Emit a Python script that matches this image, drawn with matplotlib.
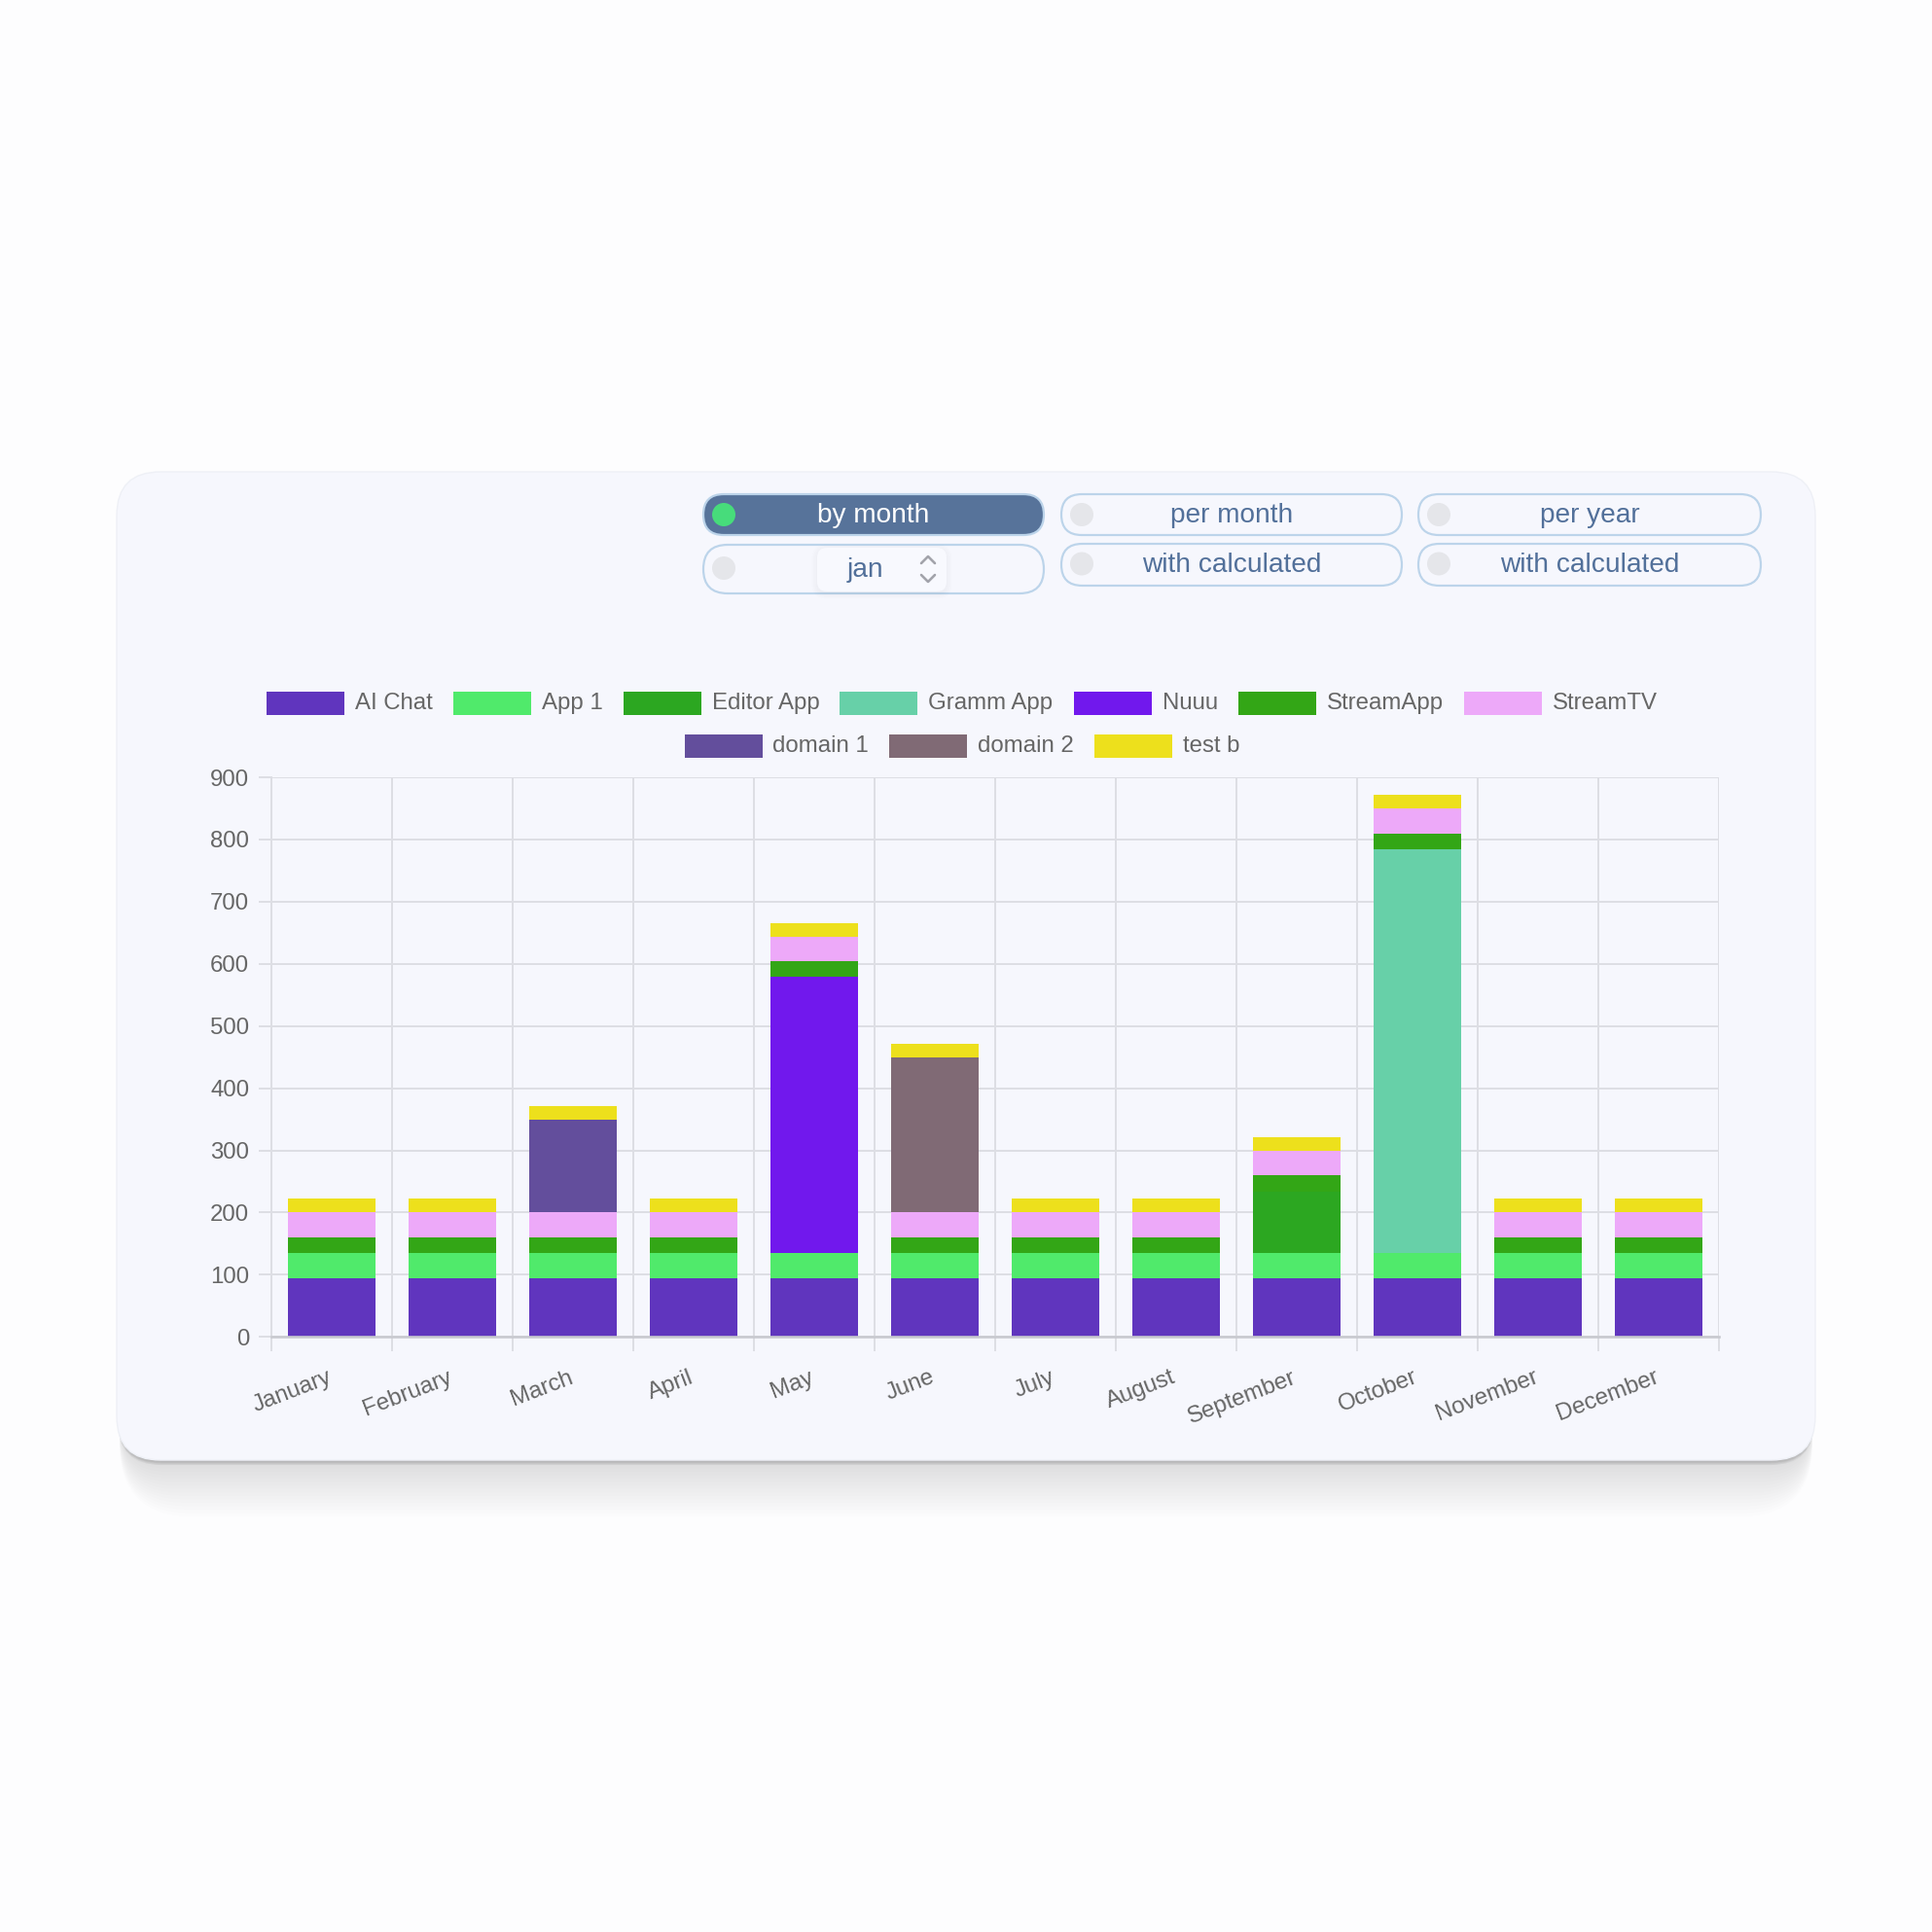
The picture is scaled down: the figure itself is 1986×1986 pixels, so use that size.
import matplotlib
matplotlib.use('Agg')
import matplotlib.pyplot as plt
import matplotlib.transforms as mtransforms
from matplotlib.patches import FancyBboxPatch, Rectangle, Circle
import numpy as np

plt.rcParams['font.family'] = ['Liberation Sans', 'DejaVu Sans']

# ---------------- data ----------------
months = ['January', 'February', 'March', 'April', 'May', 'June', 'July',
          'August', 'September', 'October', 'November', 'December']
series_names = ['AI Chat', 'App 1', 'Editor App', 'Gramm App', 'Nuuu',
                'StreamApp', 'StreamTV', 'domain 1', 'domain 2', 'test b']
ai_chat   = [94, 94, 94, 94, 94, 94, 94, 94, 94, 94, 94, 94]
app_1     = [41, 41, 41, 41, 41, 41, 41, 41, 41, 41, 41, 41]
editor    = [0, 0, 0, 0, 0, 0, 0, 0, 98, 0, 0, 0]
gramm     = [0, 0, 0, 0, 0, 0, 0, 0, 0, 650, 0, 0]
nuuu      = [0, 0, 0, 0, 444, 0, 0, 0, 0, 0, 0, 0]
streamapp = [25, 25, 25, 25, 25, 25, 25, 25, 27, 25, 25, 25]
streamtv  = [40, 40, 40, 40, 40, 40, 40, 40, 39, 40, 40, 40]
domain_1  = [0, 0, 150, 0, 0, 0, 0, 0, 0, 0, 0, 0]
domain_2  = [0, 0, 0, 0, 0, 250, 0, 0, 0, 0, 0, 0]
test_b    = [22, 22, 22, 22, 22, 22, 22, 22, 22, 22, 22, 22]
series_values = [ai_chat, app_1, editor, gramm, nuuu, streamapp, streamtv,
                 domain_1, domain_2, test_b]
series_colors = ['#6035be', '#50ea6b', '#2ca721', '#67d0a8', '#7118ed',
                 '#33a616', '#eda9f9', '#634e9c', '#806a75', '#ede01c']
y_ticks = [0, 100, 200, 300, 400, 500, 600, 700, 800, 900]
buttons_row1 = ['by month', 'per month', 'per year']
buttons_row2 = ['jan', 'with calculated', 'with calculated']

# ---------------- figure ----------------
W = 1986
fig = plt.figure(figsize=(19.86, 19.86), dpi=100)
fig.patch.set_facecolor('#fdfdfe')

bg = fig.add_axes([0, 0, 1, 1], zorder=0)
bg.set_xlim(0, W)
bg.set_ylim(W, 0)
bg.axis('off')

PT = 0.72  # px -> pt at dpi 100

# card shadow (soft, below the card)
cx, cy, cw, ch, cr = 120, 485, 1746, 1016, 45
for i in range(16):
    s = 1 + i * 3.2
    top = cy + 60
    bg.add_patch(FancyBboxPatch((cx + 3, top), cw - 6, (cy + ch + 4 + s * 1.1) - top,
                                boxstyle=f"round,pad=0,rounding_size={cr + s * 0.6}",
                                fc='black', ec='none', alpha=0.009, zorder=1))
for i in range(4):
    s = 0.5 + i * 1.2
    top = cy + 60
    bg.add_patch(FancyBboxPatch((cx + 1, top), cw - 2, (cy + ch + 1 + s) - top,
                                boxstyle=f"round,pad=0,rounding_size={cr}",
                                fc='black', ec='none', alpha=0.05, zorder=1))
bg.add_patch(FancyBboxPatch((cx, cy), cw, ch, boxstyle=f"round,pad=0,rounding_size={cr}",
                            fc='#f6f7fd', ec='#eef0f6', lw=1, zorder=2))

# ---------------- buttons ----------------
txt_col = '#52709a'
border_col = '#bcd4ea'
btn_x = [(723, 1073), (1091, 1441), (1458, 1810)]
row1_y = (508, 550)
for i, (x0, x1) in enumerate(btn_x):
    y0, y1 = row1_y
    h = y1 - y0
    active = (i == 0)
    bg.add_patch(FancyBboxPatch((x0, y0), x1 - x0, h,
                                boxstyle=f"round,pad=0,rounding_size={h/2}",
                                fc='#57739a' if active else '#f6f7fd',
                                ec=border_col, lw=2.2 * PT, zorder=3))
    bg.add_patch(Circle((x0 + 21, (y0 + y1) / 2), 12,
                        fc='#47dc7b' if active else '#e5e6ea', ec='none', zorder=4))
    bg.text((x0 + x1) / 2, (y0 + y1) / 2 + 1, buttons_row1[i], ha='center', va='center',
            fontsize=28 * PT, color='white' if active else txt_col, zorder=5)

# row 2
for i, (x0, x1) in enumerate(btn_x):
    if i == 0:
        y0, y1 = 560, 610
    else:
        y0, y1 = 559, 602
    h = y1 - y0
    bg.add_patch(FancyBboxPatch((x0, y0), x1 - x0, h,
                                boxstyle=f"round,pad=0,rounding_size={h/2}",
                                fc='#f6f7fd', ec=border_col, lw=2.2 * PT, zorder=3))
    bg.add_patch(Circle((x0 + 21, (y0 + y1) / 2 - 1), 12, fc='#e5e6ea', ec='none', zorder=4))
    if i == 0:
        # inner select box
        for k in range(4):
            s = 1 + k * 1.5
            bg.add_patch(FancyBboxPatch((840 - s, 563 - s + 2), 133 + 2 * s, 45 + 2 * s,
                                        boxstyle=f"round,pad=0,rounding_size={10 + s}",
                                        fc='black', ec='none', alpha=0.008, zorder=4))
        bg.add_patch(FancyBboxPatch((840, 563), 133, 45, boxstyle="round,pad=0,rounding_size=10",
                                    fc='#f8f9fe', ec='none', zorder=4))
        bg.text(890, 586, buttons_row2[i], ha='center', va='center',
                fontsize=28 * PT, color=txt_col, zorder=5)
        bg.plot([947, 954, 961], [579, 572, 579], color='#a2a3ab', lw=2.6 * PT,
                solid_capstyle='round', solid_joinstyle='round', zorder=5)
        bg.plot([947, 954, 961], [591, 598, 591], color='#a2a3ab', lw=2.6 * PT,
                solid_capstyle='round', solid_joinstyle='round', zorder=5)
    else:
        bg.text((x0 + x1) / 2, (y0 + y1) / 2, buttons_row2[i], ha='center', va='center',
                fontsize=28 * PT, color=txt_col, zorder=5)

# ---------------- legend ----------------
renderer = fig.canvas.get_renderer()
leg_font = 24 * PT
rows = [(list(range(0, 7)), 723), (list(range(7, 10)), 767)]
center_x = 989
for idxs, yc in rows:
    texts = []
    widths = []
    for j in idxs:
        t = bg.text(0, yc, series_names[j], ha='left', va='center',
                    fontsize=leg_font, color='#666666', zorder=5)
        texts.append(t)
        widths.append(t.get_window_extent(renderer=renderer).width)
    total = sum(80 + 11 + w for w in widths) + 21 * (len(idxs) - 1)
    x = center_x - total / 2
    for t, w, j in zip(texts, widths, idxs):
        bg.add_patch(Rectangle((x, yc - 12), 80, 24, fc=series_colors[j], ec='none', zorder=5))
        t.set_x(x + 80 + 11)
        x += 80 + 11 + w + 21

# ---------------- chart ----------------
L, R, T, B = 279, 1767, 799, 1374.3
ax = fig.add_axes([L / W, 1 - B / W, (R - L) / W, (B - T) / W], zorder=2)
ax.patch.set_alpha(0)

x = np.arange(len(months))
bottom = np.zeros(len(months))
for name, vals, col in zip(series_names, series_values, series_colors):
    v = np.array(vals, dtype=float)
    ax.bar(x, v, width=0.72, bottom=bottom, color=col, lw=0, zorder=3, label=name)
    bottom += v

grid_col = '#dddee4'
ax.set_xlim(-0.5, 11.5)
ax.set_ylim(0, 900)
ax.set_yticks(y_ticks)
ax.set_yticklabels([str(t) for t in y_ticks])
ax.yaxis.grid(True, color=grid_col, lw=2 * PT, zorder=0)
ax.set_xticks(x)
ax.set_xticklabels(months)
ax.set_xticks(np.arange(-0.5, 12, 1), minor=True)
ax.xaxis.grid(True, which='minor', color=grid_col, lw=2 * PT, zorder=0)
ax.xaxis.grid(False, which='major')
ax.set_axisbelow(True)

ax.tick_params(axis='x', which='major', length=0, pad=22, labelsize=24 * PT, labelcolor='#666666')
ax.tick_params(axis='x', which='minor', length=15 * PT, color=grid_col, width=2 * PT)
ax.tick_params(axis='y', length=13 * PT, color=grid_col, width=2 * PT, pad=7,
               labelsize=24 * PT, labelcolor='#666666')
shift = mtransforms.ScaledTranslation(-5 / 100, 0, fig.dpi_scale_trans)
for lab in ax.get_xticklabels():
    lab.set_rotation(21)
    lab.set_ha('right')
    lab.set_va('top')
    lab.set_rotation_mode('anchor')
    lab.set_transform(lab.get_transform() + shift)

for s in ['top', 'right']:
    ax.spines[s].set_visible(False)
ax.spines['left'].set_color(grid_col)
ax.spines['left'].set_linewidth(2 * PT)
ax.spines['bottom'].set_color('#c8c9cf')
ax.spines['bottom'].set_linewidth(2.6 * PT)
ax.spines['bottom'].set_zorder(4)

fig.savefig('out.png', dpi=100, facecolor=fig.get_facecolor())
